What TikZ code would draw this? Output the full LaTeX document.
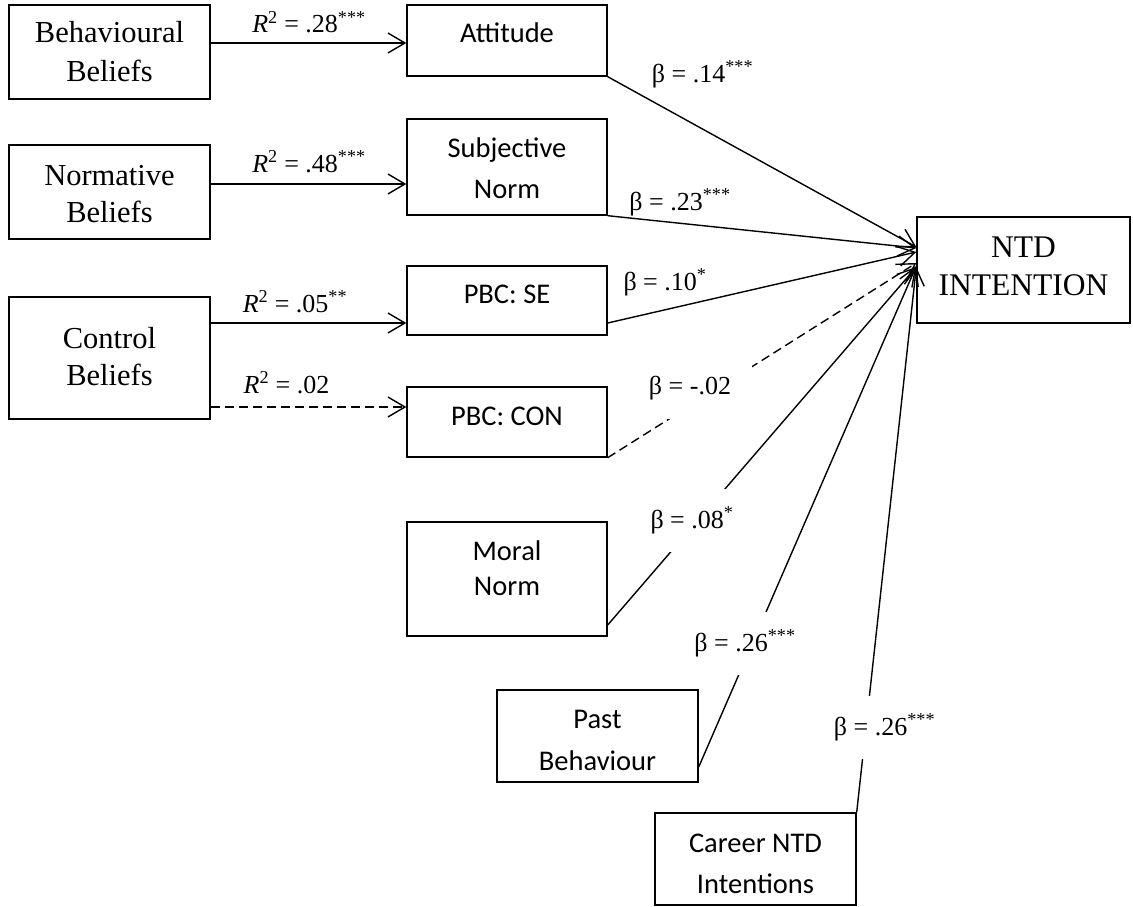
\documentclass[tikz,border=0pt]{standalone}
\usepackage{fontspec}
\setmainfont{Liberation Serif}
\newfontfamily\calib{Carlito}
\usetikzlibrary{arrows.meta}
% box text: lines stacked, last baseline shifted by #1 from the box centre
\newcommand\boxlines[2]{\raisebox{#1}[0pt][0pt]{\begin{tabular}[b]{@{}c@{}}#2\end{tabular}}}
\begin{document}
\begin{tikzpicture}[x=1pt,y=-1pt,
  ent/.style={draw, line width=1.4pt, inner sep=0pt},
  serifbox/.style={ent, font=\fontsize{30.5}{37}\selectfont},
  sansbox/.style={ent, font=\calib\fontsize{28.5}{41}\selectfont},
  lbl/.style={font=\fontsize{26}{30}\selectfont, inner sep=0pt, anchor=base},
  gaplbl/.style={lbl, fill=white, minimum width=124pt, minimum height=63pt},
  arr/.style={line width=1.4pt, -{Straight Barb[length=17pt,width=20pt]}},
  dashedline/.style={dash pattern=on 9pt off 5pt}]
\useasboundingbox (0,0) rectangle (1133,907);

% belief constructs
\node[serifbox, minimum width=201pt, minimum height=94pt, font=\fontsize{30.5}{39}\selectfont] (BB) at (109.5,52) {\boxlines{-30pt}{Behavioural\\Beliefs}};
\node[serifbox, minimum width=201pt, minimum height=94pt] (NB) at (109.5,192) {\boxlines{-30pt}{Normative\\Beliefs}};
\node[serifbox, minimum width=201pt, minimum height=122pt] (CB) at (109.5,358) {\boxlines{-27pt}{Control\\Beliefs}};

% predictors of intention
\node[sansbox, minimum width=200pt, minimum height=71pt] (ATT) at (507,40.5) {\boxlines{-2.5pt}{Attitude}};
\node[sansbox, minimum width=200pt, minimum height=96pt] (SN) at (507,167) {\boxlines{-31pt}{Subjective\\Norm}};
\node[sansbox, minimum width=200pt, minimum height=69pt] (SE) at (507,300.5) {\boxlines{-2.5pt}{PBC: SE}};
\node[sansbox, minimum width=200pt, minimum height=70pt] (CON) at (507,422) {\boxlines{-3pt}{PBC: CON}};
\node[sansbox, minimum width=200pt, minimum height=114pt, font=\calib\fontsize{28.5}{35}\selectfont] (MN) at (507,579) {\boxlines{-16pt}{Moral\\Norm}};
\node[sansbox, minimum width=201pt, minimum height=92pt, font=\calib\fontsize{28.5}{42}\selectfont] (PB) at (597.5,736) {\boxlines{-34pt}{Past\\Behaviour}};
\node[sansbox, minimum width=201pt, minimum height=92pt] (CN) at (755.5,859) {\boxlines{-34pt}{Career NTD\\Intentions}};

% outcome
\node[serifbox, minimum width=213pt, minimum height=106pt, font=\fontsize{31.5}{38}\selectfont] (NTD) at (1023.5,270) {\boxlines{-25pt}{NTD\\INTENTION}};

% belief -> construct paths
\draw[arr] (BB.east |- 0,43) -- (ATT.west |- 0,43);
\draw[arr] (NB.east |- 0,184) -- (SN.west |- 0,184);
\draw[arr] (CB.east |- 0,323) -- (SE.west |- 0,323);
\draw[arr, dashedline] (CB.east |- 0,407) -- (CON.west |- 0,407);

% construct -> intention paths
\draw[arr] (ATT.south east) -- (NTD.west |- 0,247);
\draw[arr] (SN.south east) -- (NTD.west |- 0,248);
\draw[arr] (SE.east |- 0,323) -- (NTD.west |- 0,252);
\draw[arr, dashedline] (CON.south east) -- (NTD.west |- 0,263);
\draw[arr] (MN.east |- 0,625) -- (NTD.west |- 0,267);
\draw[arr] (PB.east |- 0,767) -- (NTD.west |- 0,266);
\draw[arr] (CN.north east) -- (NTD.west |- 0,267);

% explained variance
\node[lbl] (r1) at (309,33) {\textit{R}\textsuperscript{2} = .28\textsuperscript{***}};
\node[lbl] (r2) at (309,172) {\textit{R}\textsuperscript{2} = .48\textsuperscript{***}};
\node[lbl] (r3) at (295,312) {\textit{R}\textsuperscript{2} = .05\textsuperscript{**}};
\node[lbl] (r4) at (286.5,393) {\textit{R}\textsuperscript{2} = .02};

% path coefficients
\node[lbl] (b1) at (702.5,82) {β = .14\textsuperscript{***}};
\node[lbl] (b2) at (680,210) {β = .23\textsuperscript{***}};
\node[lbl] (b3) at (665,290) {β = .10\textsuperscript{*}};
\node[gaplbl] (b4) at (690,394) {β = -.02};
\node[gaplbl] (b5) at (692,528) {β = .08\textsuperscript{*}};
\node[gaplbl] (b6) at (745,651) {β = .26\textsuperscript{***}};
\node[gaplbl] (b7) at (884.5,735) {β = .26\textsuperscript{***}};
\end{tikzpicture}
\end{document}
